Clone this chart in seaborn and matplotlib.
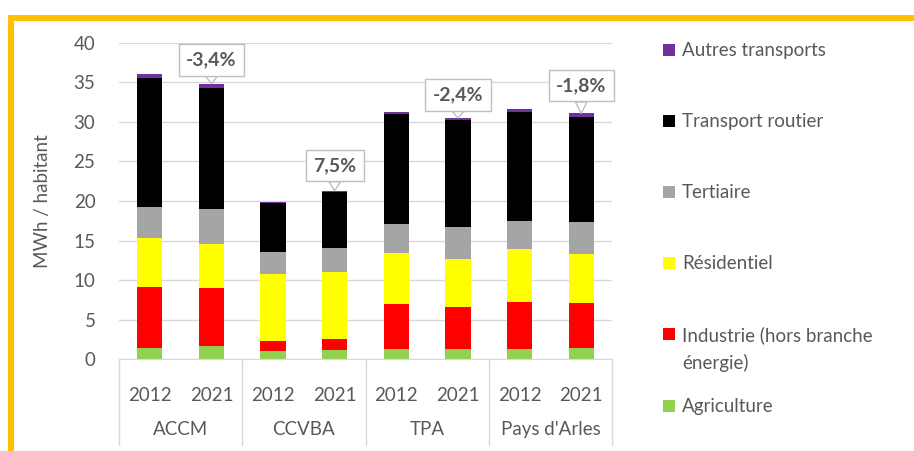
import pandas as pd
import matplotlib.pyplot as plt
import matplotlib.transforms as mtransforms
from matplotlib.patches import Rectangle
import seaborn as sns

# Consommation d'énergie par habitant (MWh / habitant)
groups = ["ACCM", "CCVBA", "TPA", "Pays d'Arles"]
years = ["2012", "2021"]

agriculture = [1.43, 1.68, 1.05, 1.17, 1.26, 1.26, 1.26, 1.47]
industrie = [7.67, 7.37, 1.30, 1.39, 5.73, 5.39, 6.02, 5.68]
residentiel = [6.19, 5.52, 8.43, 8.43, 6.40, 5.98, 6.66, 6.19]
tertiaire = [4.00, 4.42, 2.82, 3.11, 3.70, 4.12, 3.57, 4.01]
routier = [16.20, 15.25, 6.15, 7.08, 13.86, 13.49, 13.69, 13.30]
autres = [0.50, 0.59, 0.08, 0.12, 0.25, 0.25, 0.47, 0.43]

variations = ["-3,4%", "7,5%", "-2,4%", "-1,8%"]

series = [
    ("Agriculture", agriculture, "#92D050"),
    ("Industrie (hors branche\nénergie)", industrie, "#FF0000"),
    ("Résidentiel", residentiel, "#FFFF00"),
    ("Tertiaire", tertiaire, "#A5A5A5"),
    ("Transport routier", routier, "#000000"),
    ("Autres transports", autres, "#7030A0"),
]

TXT = "#595959"
FS = 13.5
sns.set_style("white")
plt.rcParams["font.family"] = ["Lato", "DejaVu Sans"]

keys = [f"{g} {y}" for g in groups for y in years]
df = pd.DataFrame({"key": keys})
cum = pd.Series([0.0] * len(keys))
for name, vals, _ in series:
    cum = cum + pd.Series(vals)
    df[name] = cum.values

W, H = 914, 451
fig = plt.figure(figsize=(W / 100, H / 100), dpi=100)
ax = fig.add_axes([0.1302, 0.2033, 0.5394, 0.702])

# stacked bars: draw cumulative heights from top series down
for name, vals, color in reversed(series):
    sns.barplot(data=df, x="key", y=name, order=keys, color=color,
                saturation=1, width=0.41, linewidth=0, errorbar=None, ax=ax)

ax.set_ylim(0, 40)
ax.set_xlim(-0.5, len(keys) - 0.5)
ax.set_yticks(range(0, 41, 5))
ax.yaxis.grid(True, color="#D9D9D9", lw=1)
ax.set_axisbelow(True)
for s in ["top", "right", "left"]:
    ax.spines[s].set_visible(False)
ax.spines["bottom"].set_color("#D9D9D9")
ax.tick_params(axis="y", length=0, pad=17, labelsize=FS, labelcolor=TXT)
ax.tick_params(axis="x", length=0, pad=20, labelsize=FS, labelcolor=TXT)
ax.set_xticks(range(len(keys)))
ax.set_xticklabels(years * len(groups))
ax.set_xlabel("")
ax.set_ylabel("MWh / habitant", fontsize=FS, color=TXT, labelpad=16)

# group labels and separators below the axis
trans = mtransforms.blended_transform_factory(ax.transData, ax.transAxes)
for i, g in enumerate(groups):
    ax.text(2 * i + 0.5, -0.223, g, transform=trans, ha="center", va="center",
            fontsize=FS, color=TXT)
for xs in [-0.5, 1.5, 3.5, 5.5, 7.5]:
    ax.plot([xs, xs], [0, -0.271], transform=trans, color="#D9D9D9", lw=1,
            clip_on=False)

# variation callouts on the 2021 bars
totals = df["Autres transports"].values
offsets = [3.0, 3.2, 2.9, 3.5]
for i, txt in enumerate(variations):
    xi = 2 * i + 1
    ax.annotate(txt, xy=(xi, totals[xi]), xytext=(xi, totals[xi] + offsets[i]),
                ha="center", va="center", fontsize=14, fontweight="bold",
                color=TXT,
                bbox=dict(boxstyle="square,pad=0.38", fc="white", ec="#BFBFBF", lw=1),
                arrowprops=dict(arrowstyle="wedge,tail_width=0.6,shrink_factor=0.5",
                                fc="white", ec="#BFBFBF", lw=1, shrinkA=0, shrinkB=0))

# legend (top series first), placed like the original
leg_y = [50, 121, 192, 263, 334, 406]
for (name, _, color), y in zip(reversed(series), leg_y):
    fig.patches.append(Rectangle((663 / W, 1 - (y + 6) / H), 12 / W, 12 / H,
                                 transform=fig.transFigure, fc=color, ec="none"))
    fig.text(682 / W, 1 - (y - 8) / H, name, ha="left", va="top",
             fontsize=FS, color=TXT, linespacing=1.65)

# yellow frame
fig.patches.append(Rectangle((0.012, -0.1), 1.2, 1.06, transform=fig.transFigure,
                             fill=False, ec="#FFC000", lw=4.3))

fig.savefig("out.png", dpi=100)
